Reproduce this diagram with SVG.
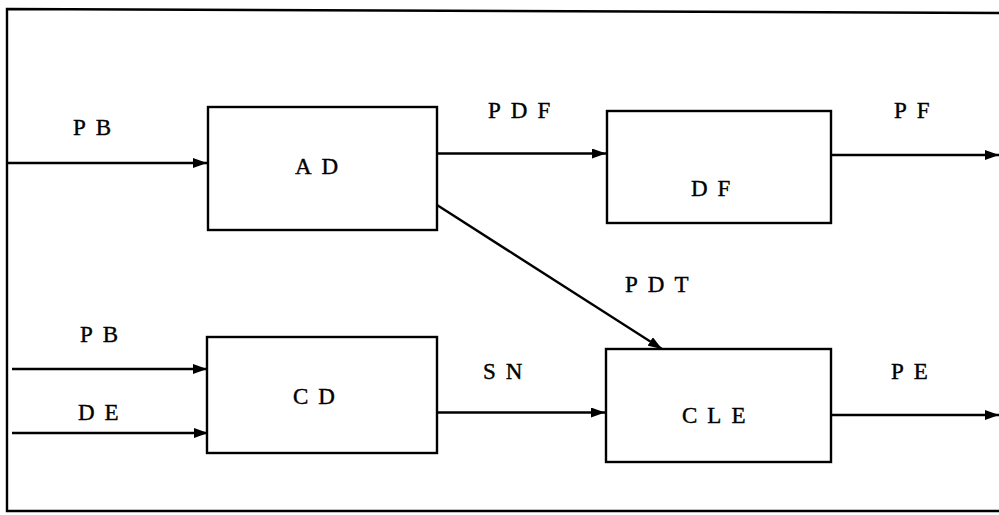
<svg xmlns="http://www.w3.org/2000/svg" width="999" height="515" viewBox="0 0 999 515">
  <style>
    .box { fill: #fff; stroke: #000; stroke-width: 2.4; }
    .wire { fill: none; stroke: #000; stroke-width: 2.4; }
    .lbl { font-family: "Liberation Serif", "Times New Roman", serif; font-size: 23px; fill: #000; stroke: #000; stroke-width: 0.4; letter-spacing: 10px; }
  </style>
  <defs>
    <marker id="arrow" viewBox="0 0 14 10" refX="14" refY="5" markerWidth="14" markerHeight="10" markerUnits="userSpaceOnUse" orient="auto">
      <path d="M0,0 L14,5 L0,10 Z" fill="#000"/>
    </marker>
  </defs>
  <rect x="0" y="0" width="999" height="515" fill="#fff"/>

  <!-- outer frame -->
  <path class="wire" d="M999,13 L7,9 L7,511 L999,511" stroke-width="2.8"/>

  <g id="AD">
    <rect class="box" x="208" y="107" width="229" height="123"/>
    <text class="lbl" x="295" y="173.5" letter-spacing="13">AD</text>
  </g>
  <g id="DF">
    <rect class="box" x="607" y="111" width="224" height="112"/>
    <text class="lbl" x="691" y="196" letter-spacing="13">DF</text>
  </g>
  <g id="CD">
    <rect class="box" x="207" y="337" width="230" height="116"/>
    <text class="lbl" x="293" y="404" letter-spacing="13">CD</text>
  </g>
  <g id="CLE">
    <rect class="box" x="606" y="349" width="225" height="113"/>
    <text class="lbl" x="682" y="423" letter-spacing="10">CLE</text>
  </g>

  <g id="connectors">
    <line class="wire" x1="7" y1="163" x2="207" y2="163" marker-end="url(#arrow)"/>
    <line class="wire" x1="437" y1="153.5" x2="606" y2="153.5" marker-end="url(#arrow)"/>
    <line class="wire" x1="831" y1="155" x2="999" y2="155" marker-end="url(#arrow)"/>
    <line class="wire" x1="437" y1="205" x2="662" y2="349" marker-end="url(#arrow)"/>
    <line class="wire" x1="12" y1="369" x2="207" y2="369" marker-end="url(#arrow)"/>
    <line class="wire" x1="12" y1="433" x2="208" y2="433" marker-end="url(#arrow)"/>
    <line class="wire" x1="437" y1="412.5" x2="605" y2="412.5" marker-end="url(#arrow)"/>
    <line class="wire" x1="831" y1="415" x2="999" y2="415" marker-end="url(#arrow)"/>

    <text class="lbl" x="73" y="134.5" letter-spacing="9">PB</text>
    <text class="lbl" x="488" y="117.5">PDF</text>
    <text class="lbl" x="894" y="118" letter-spacing="6">PF</text>
    <text class="lbl" x="625" y="292">PDT</text>
    <text class="lbl" x="80" y="342" letter-spacing="9">PB</text>
    <text class="lbl" x="78" y="420" letter-spacing="9">DE</text>
    <text class="lbl" x="483" y="378.5" letter-spacing="8">SN</text>
    <text class="lbl" x="891" y="378.5" letter-spacing="8">PE</text>
  </g>
</svg>
